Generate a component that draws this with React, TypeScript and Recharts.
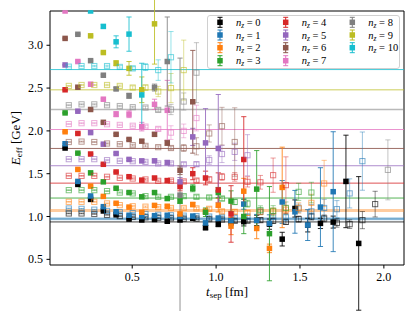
import React from "react";
import { ErrorBar, ReferenceArea, ReferenceLine, Scatter, ScatterChart, XAxis, YAxis } from "recharts";

type Pt = [number, number] | null; // [E_eff, error]

// time slices of the two data sets (fm)
const T_FILLED = [
  0.1, 0.176, 0.252, 0.328, 0.404, 0.481, 0.557, 0.633, 0.709, 0.785, 0.861, 0.937,
  1.013, 1.089, 1.165, 1.242, 1.318, 1.394, 1.47, 1.546, 1.622, 1.698, 1.774, 1.85,
];
const T_OPEN = [
  0.122, 0.198, 0.274, 0.35, 0.426, 0.503, 0.579, 0.655, 0.731, 0.807, 0.883, 0.959, 1.035,
  1.111, 1.187, 1.264, 1.34, 1.416, 1.492, 1.568, 1.644, 1.72, 1.796, 1.872, 1.948, 2.024,
];

const NZ = [0, 1, 2, 3, 4, 5, 6, 7, 8, 9, 10];
const PLATEAU = [0.937, 0.975, 1.07, 1.216, 1.39, 1.593, 1.795, 2.016, 2.25, 2.48, 2.716];

const nz0Filled: Pt[] = [
  [1.8, 0.005], [1.375, 0.005], [1.2, 0.005], [1.065, 0.005], [1.02, 0.006], [0.97, 0.007],
  [0.96, 0.008], [0.965, 0.01], [0.945, 0.012], [0.96, 0.015], [0.98, 0.02], [0.87, 0.025],
  [0.911, 0.03], [0.938, 0.04], [0.94, 0.05], [0.955, 0.06], [0.911, 0.06], [0.736, 0.08],
  [1.094, 0.1], [0.9, 0.08], [0.92, 0.06], [0.935, 0.07], [1.41, 0.54], [0.686, 0.78],
];
const nz0Open: Pt[] = [
  [1.036, 0.004], [1.036, 0.004], [1.03, 0.004], [1.02, 0.005], [1.005, 0.005], [0.995, 0.006],
  [0.99, 0.007], [0.985, 0.008], [0.98, 0.01], [0.975, 0.01], [0.975, 0.012], [0.97, 0.015],
  [0.965, 0.015], [0.95, 0.02], [0.95, 0.02], [0.958, 0.025], [0.95, 0.03], [0.938, 0.03],
  [0.97, 0.035], [1.0, 0.04], [0.978, 0.04], [0.926, 0.05], [0.911, 0.05], [0.958, 0.1],
  [1.145, 0.15],
];
const nz1Filled: Pt[] = [
  [1.85, 0.005], [1.41, 0.005], [1.24, 0.005], [1.115, 0.006], [1.056, 0.006], [1.015, 0.007],
  [1.0, 0.008], [1.01, 0.01], [1.015, 0.012], [1.0, 0.015], [1.005, 0.02], [0.925, 0.025],
  [0.978, 0.03], [0.95, 0.04], [1.145, 0.06], [0.955, 0.07], [0.92, 0.1], [1.17, 0.25],
  [1.055, 0.25], [0.9, 0.18], [1.11, 0.46], [1.29, 0.7],
];
const nz1Open: Pt[] = [
  [1.094, 0.004], [1.09, 0.004], [1.08, 0.004], [1.065, 0.005], [1.05, 0.005], [1.04, 0.006],
  [1.03, 0.007], [1.02, 0.008], [1.015, 0.01], [1.01, 0.01], [1.005, 0.012], [1.0, 0.015],
  [0.995, 0.015], [0.99, 0.02], [1.0, 0.025], [1.055, 0.03], [1.0, 0.035], [0.99, 0.04],
  [1.094, 0.05], [1.06, 0.08], [1.1, 0.1], [1.086, 0.1], [1.27, 0.17], [1.647, 0.34],
];
const nz2Filled: Pt[] = [
  [1.99, 0.005], [1.55, 0.005], [1.355, 0.006], [1.235, 0.006], [1.155, 0.007], [1.11, 0.008],
  [1.05, 0.01], [1.13, 0.012], [1.12, 0.015], [1.03, 0.02], [1.14, 0.025], [1.06, 0.03],
  [1.133, 0.08], [0.888, 0.1], [1.296, 0.15], [0.861, 0.12], [0.628, 0.05], [1.34, 0.47],
];
const nz2Open: Pt[] = [
  [1.172, 0.004], [1.172, 0.004], [1.172, 0.005], [1.153, 0.005], [1.133, 0.006], [1.12, 0.007],
  [1.115, 0.008], [1.11, 0.01], [1.1, 0.01], [1.1, 0.012], [1.095, 0.015], [1.09, 0.02],
  [1.06, 0.02], [1.055, 0.025], [1.043, 0.03], [1.055, 0.035], [1.06, 0.04], [1.08, 0.05],
  [1.1, 0.06], [1.16, 0.1], [1.386, 0.27],
];
const nz3Filled: Pt[] = [
  [2.21, 0.005], [1.74, 0.005], [1.51, 0.006], [1.405, 0.006], [1.33, 0.008], [1.28, 0.01],
  [1.23, 0.012], [1.28, 0.015], [1.21, 0.02], [1.18, 0.025], [1.33, 0.04], [1.05, 0.05],
  [1.28, 0.06], [1.18, 0.12], [1.0, 0.2], [1.32, 0.45], [0.8, 0.55],
];
const nz3Open: Pt[] = [
  [1.308, 0.004], [1.308, 0.004], [1.308, 0.005], [1.297, 0.005], [1.28, 0.006], [1.27, 0.007],
  [1.238, 0.008], [1.23, 0.01], [1.23, 0.012], [1.238, 0.015], [1.23, 0.02], [1.223, 0.02],
  [1.21, 0.025], [1.17, 0.03], [1.15, 0.04], [1.075, 0.05], [1.067, 0.06], [1.1, 0.07],
  [1.288, 0.1], [1.28, 0.12],
];
const nz4Filled: Pt[] = [
  [2.48, 0.005], [1.97, 0.006], [1.73, 0.006], [1.61, 0.007], [1.52, 0.008], [1.465, 0.01],
  [1.425, 0.012], [1.45, 0.015], [1.42, 0.02], [1.35, 0.05], [1.5, 0.07], [1.45, 0.08],
  [1.31, 0.2], [1.03, 0.33], [1.666, 0.5],
];
const nz4Open: Pt[] = [
  [1.475, 0.004], [1.475, 0.004], [1.475, 0.005], [1.464, 0.005], [1.452, 0.006], [1.444, 0.007],
  [1.433, 0.008], [1.417, 0.01], [1.42, 0.012], [1.41, 0.015], [1.42, 0.02], [1.433, 0.03],
  [1.463, 0.04], [1.463, 0.05], [1.405, 0.06], [1.4, 0.08], [1.483, 0.2], [1.367, 0.33],
];
const nz5Filled: Pt[] = [
  [2.77, 0.005], [2.23, 0.006], [1.98, 0.007], [1.845, 0.008], [1.736, 0.01], [1.667, 0.012],
  [1.65, 0.015], [1.65, 0.02], [1.63, 0.025], [1.405, 0.05], [1.93, 0.1], [1.86, 0.4],
  [1.795, 0.63],
];
const nz5Open: Pt[] = [
  [1.67, 0.004], [1.67, 0.005], [1.67, 0.005], [1.658, 0.006], [1.65, 0.007], [1.646, 0.008],
  [1.638, 0.01], [1.62, 0.012], [1.62, 0.015], [1.61, 0.02], [1.611, 0.025], [1.66, 0.05],
  [1.73, 0.1], [1.755, 0.1], [1.716, 0.24],
];
const nz6Filled: Pt[] = [
  [3.08, 0.006], [2.51, 0.006], [2.25, 0.007], [2.1, 0.008], [1.96, 0.01], [1.9, 0.012],
  [1.88, 0.015], [1.96, 0.02], [1.86, 0.03], [1.54, 0.05], [2.34, 0.6],
];
const nz6Open: Pt[] = [
  [1.87, 0.004], [1.875, 0.005], [1.87, 0.005], [1.853, 0.006], [1.845, 0.008], [1.833, 0.01],
  [1.825, 0.012], [1.81, 0.015], [1.8, 0.02], [1.8, 0.04], [1.82, 0.1], [1.97, 0.1],
  [2.055, 0.22], [1.87, 0.4],
];
const nz7Filled: Pt[] = [
  [3.4, 0.006], [2.81, 0.007], [2.545, 0.008], [2.37, 0.01], [2.195, 0.03], [2.195, 0.04],
  [2.05, 0.05], [2.31, 0.06], [2.24, 0.35],
];
const nz7Open: Pt[] = [
  [2.08, 0.005], [2.09, 0.005], [2.09, 0.006], [2.078, 0.007], [2.07, 0.008], [2.06, 0.01],
  [2.05, 0.015], [2.023, 0.02], [1.98, 0.08], [2.0, 0.08], [2.15, 0.15],
];
const nz8Filled: Pt[] = [
  null, [3.128, 0.006], [2.82, 0.007], [2.65, 0.01], [2.49, 0.015], [2.41, 0.03], null,
  [2.506, 0.04], [2.81, 0.52], [1.25, 1.6],
];
const nz8Open: Pt[] = [
  [2.3, 0.005], [2.31, 0.005], [2.31, 0.006], [2.3, 0.007], [2.29, 0.008], [2.277, 0.01],
  [2.273, 0.015], [2.245, 0.02], [2.25, 0.06], [2.343, 0.1], [2.68, 0.35],
  null, null, null, null, null, null, null, null, null, null, null, null, null, null,
  [1.545, 0.35],
];
const nz9Filled: Pt[] = [
  null, null, [3.11, 0.006], [2.915, 0.008], [2.79, 0.03], [2.73, 0.08], [2.48, 0.15], [3.25, 0.47],
];
const nz9Open: Pt[] = [
  [2.525, 0.005], [2.536, 0.005], [2.536, 0.006], [2.536, 0.008], [2.525, 0.01], [2.506, 0.02],
  [2.506, 0.03], [2.46, 0.06], [2.5, 0.17], [2.71, 0.35],
];
const nz10Filled: Pt[] = [
  null, null, [3.4, 0.006], [3.22, 0.02], [3.04, 0.07], [3.13, 0.2], [2.42, 0.37],
];
const nz10Open: Pt[] = [
  [2.75, 0.005], [2.757, 0.006], [2.757, 0.008], [2.757, 0.01], [2.747, 0.015], [2.73, 0.02],
  [2.745, 0.04], [2.71, 0.12], [2.86, 0.3],
];

const FILLED = [nz0Filled, nz1Filled, nz2Filled, nz3Filled, nz4Filled, nz5Filled, nz6Filled, nz7Filled, nz8Filled, nz9Filled, nz10Filled];
const OPEN = [nz0Open, nz1Open, nz2Open, nz3Open, nz4Open, nz5Open, nz6Open, nz7Open, nz8Open, nz9Open, nz10Open];

const X_TICKS = [0.5, 1.0, 1.5, 2.0];
const Y_TICKS = [0.5, 1.0, 1.5, 2.0, 2.5, 3.0];

const COLOR = [
  "#000000", "#1f77b4", "#ff7f0e", "#2ca02c", "#d62728", "#9467bd",
  "#8c564b", "#e377c2", "#7f7f7f", "#bcbd22", "#17becf",
];
// plateau line look
const LINE_W = [1, 3, 3, 1, 1, 1, 1, 1, 1.5, 1.5, 1];
const LINE_OP = [0.75, 0.35, 0.4, 0.8, 0.8, 0.75, 0.85, 0.8, 0.55, 0.5, 0.8];

const FONT = "Liberation Serif";
const W = 415;
const H = 311;

function toRows(vals: Pt[], ts: number[]) {
  const rows: { t: number; e: number; err: number }[] = [];
  vals.forEach((p, k) => {
    if (p) rows.push({ t: ts[k], e: p[0], err: p[1] });
  });
  return rows;
}

const LEG_X = [220, 285.7, 352.3];
const LEG_Y = [22.3, 35, 47.7, 60.7];

function Legend() {
  return (
    <svg width={W} height={H} style={{ position: "absolute", left: 0, top: 0, pointerEvents: "none" }}>
      <rect x={207.5} y={15.5} width={192} height={53} rx={2.5} fill="#fff" fillOpacity={0.85} stroke="#d0d0d0" />
      {NZ.map((n) => {
        const x = LEG_X[Math.floor(n / 4)];
        const y = LEG_Y[n % 4];
        const c = COLOR[n];
        return (
          <g key={n}>
            <line x1={x} x2={x} y1={y - 5} y2={y + 5} stroke={c} />
            <line x1={x - 2.5} x2={x + 2.5} y1={y - 5} y2={y - 5} stroke={c} />
            <line x1={x - 2.5} x2={x + 2.5} y1={y + 5} y2={y + 5} stroke={c} />
            <rect x={x - 2.75} y={y - 2.75} width={5.5} height={5.5} fill={c} />
            <text x={x + 16} y={y + 3.5} fill="#000" style={{ fontFamily: FONT, fontSize: 10.5 }}>
              <tspan fontStyle="italic">n</tspan>
              <tspan fontStyle="italic" style={{ fontSize: 7.5 }} dy={2}>z</tspan>
              <tspan dy={-2}>{` = ${n}`}</tspan>
            </text>
          </g>
        );
      })}
    </svg>
  );
}

const XTick = (p: any) => (
  <text x={p.x} y={p.y + 9} textAnchor="middle" fill="#000" style={{ fontFamily: FONT, fontSize: 12 }}>
    {Number(p.payload.value).toFixed(1)}
  </text>
);
const YTick = (p: any) => (
  <text x={p.x} y={p.y + 4} textAnchor="end" fill="#000" style={{ fontFamily: FONT, fontSize: 12 }}>
    {Number(p.payload.value).toFixed(1)}
  </text>
);

export default function App() {
  return (
    <div style={{ position: "absolute", left: 0, top: 0, width: W, height: H, fontFamily: FONT, background: "#fff" }}>
      <ScatterChart width={W} height={H} margin={{ top: 11, right: 11, bottom: 0, left: 0 }}>
        <XAxis
          type="number"
          dataKey="t"
          domain={[0.01, 2.12]}
          allowDataOverflow
          ticks={X_TICKS}
          height={46}
          axisLine={false}
          tickLine={{ stroke: "#000" }}
          tickSize={3.5}
          tickMargin={3}
          tick={<XTick />}
        />
        <YAxis
          type="number"
          dataKey="e"
          domain={[0.434, 3.4]}
          allowDataOverflow
          ticks={Y_TICKS}
          width={50}
          axisLine={false}
          tickLine={{ stroke: "#000" }}
          tickSize={3.5}
          tickMargin={3.5}
          tick={<YTick />}
        />
        {NZ.map((n) => (
          <ReferenceLine
            key={`l${n}`}
            y={PLATEAU[n]}
            stroke={COLOR[n]}
            strokeWidth={LINE_W[n]}
            strokeOpacity={LINE_OP[n]}
          />
        ))}
        <ReferenceLine y={0.972} stroke={COLOR[1]} strokeWidth={1} strokeOpacity={0.7} />
        {NZ.flatMap((n) => [
          <Scatter
            key={`o${n}`}
            data={toRows(OPEN[n], T_OPEN)}
            isAnimationActive={false}
            shape={(p: any) => (
              <rect
                x={p.cx - 2.6}
                y={p.cy - 2.6}
                width={5.2}
                height={5.2}
                fill="none"
                stroke={COLOR[n]}
                strokeOpacity={0.6}
                strokeWidth={1}
              />
            )}
          >
            <ErrorBar dataKey="err" direction="y" width={2.6} stroke={COLOR[n]} strokeOpacity={0.45} strokeWidth={1} isAnimationActive={false} />
          </Scatter>,
          <Scatter
            key={`f${n}`}
            data={toRows(FILLED[n], T_FILLED)}
            isAnimationActive={false}
            shape={(p: any) => (
              <rect x={p.cx - 2.75} y={p.cy - 2.75} width={5.5} height={5.5} fill={COLOR[n]} />
            )}
          >
            <ErrorBar dataKey="err" direction="y" width={2.6} stroke={COLOR[n]} strokeOpacity={0.85} strokeWidth={1} isAnimationActive={false} />
          </Scatter>,
        ])}
        <ReferenceArea x1={0.01} x2={2.12} y1={0.434} y2={3.4} fill="none" stroke="#000" strokeWidth={1} />
      </ScatterChart>
      <Legend />
      <div
        style={{
          position: "absolute",
          left: 15,
          top: 138,
          transform: "translate(-50%, -50%) rotate(-90deg)",
          fontSize: 13,
          whiteSpace: "nowrap",
          lineHeight: 1,
        }}
      >
        <i>E</i>
        <span style={{ fontSize: 9, position: "relative", top: 2 }}>eff</span> [GeV]
      </div>
      <div
        style={{
          position: "absolute",
          left: 227,
          top: 291,
          transform: "translate(-50%, -50%)",
          fontSize: 13,
          whiteSpace: "nowrap",
          lineHeight: 1,
        }}
      >
        <i>t</i>
        <span style={{ fontSize: 9, position: "relative", top: 2 }}>sep</span> [fm]
      </div>
    </div>
  );
}
